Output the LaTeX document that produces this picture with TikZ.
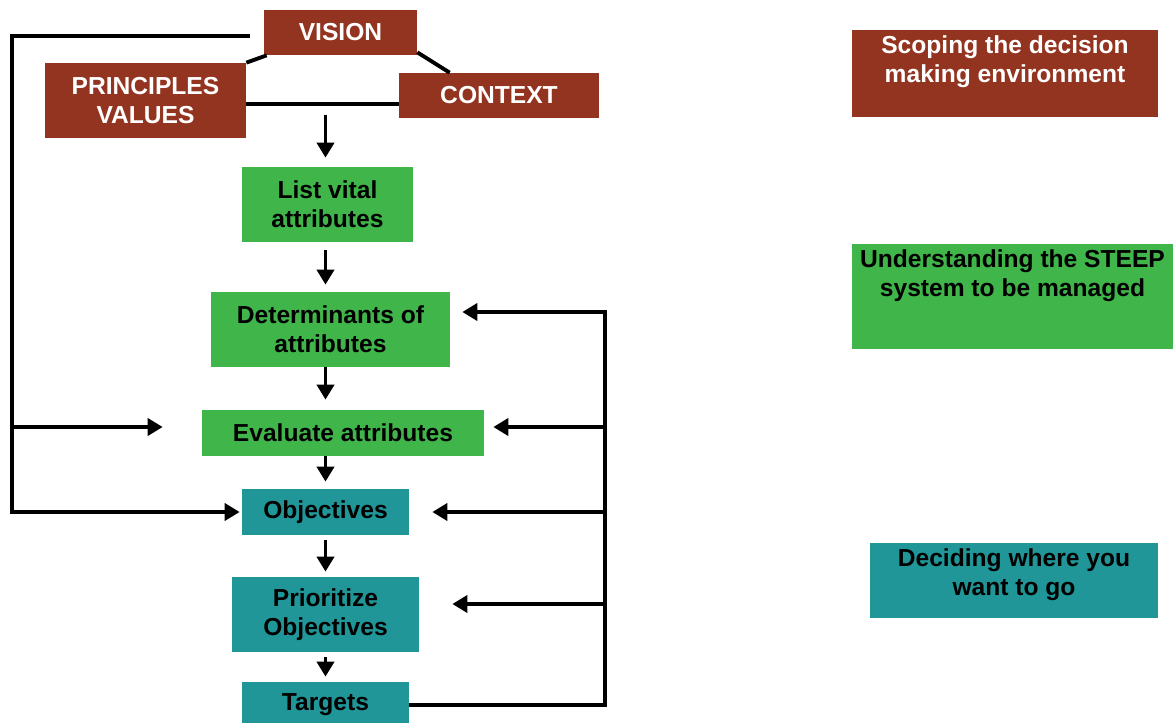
\documentclass[tikz,border=0pt]{standalone}
\usepackage{fontspec}
\setmainfont{Liberation Sans}
\usetikzlibrary{arrows.meta}
\definecolor{scopebrown}{RGB}{147,52,32}
\definecolor{steepgreen}{RGB}{64,181,74}
\definecolor{goalteal}{RGB}{33,150,152}
\begin{document}
\begin{tikzpicture}[x=0.02cm,y=-0.02cm,
        stagebox/.style={rectangle,inner sep=0pt,align=center,
            font=\bfseries\fontsize{14}{16.5}\selectfont},
        brownbox/.style={stagebox,fill=scopebrown,text=white},
        greenbox/.style={stagebox,fill=steepgreen,text=black},
        tealbox/.style={stagebox,fill=goalteal,text=black},
        legendtext/.style={stagebox,anchor=north,yshift=-0.12cm},
        link/.style={line width=2.2pt},
        flow/.style={link,-{Triangle[width=0.34cm,length=0.3cm]}}]
        \useasboundingbox (0,0) rectangle (1173,723);
        \node (vision) [brownbox,minimum width=3.06cm,minimum height=0.9cm] at (340.5,32.5) {VISION};
        \node (principles) [brownbox,minimum width=4.02cm,minimum height=1.5cm] at (145.5,100.5) {PRINCIPLES\\VALUES};
        \node (context) [brownbox,minimum width=4cm,minimum height=0.9cm] at (499,95.5) {CONTEXT};
        \node (list) [greenbox,minimum width=3.42cm,minimum height=1.5cm] at (327.5,204.5) {List vital\\attributes};
        \node (det) [greenbox,minimum width=4.78cm,minimum height=1.5cm] at (330.5,329.5) {Determinants of\\attributes};
        \node (eval) [greenbox,minimum width=5.64cm,minimum height=0.92cm] at (343,433) {Evaluate attributes};
        \node (obj) [tealbox,minimum width=3.34cm,minimum height=0.92cm] at (325.5,512) {Objectives};
        \node (prio) [tealbox,minimum width=3.74cm,minimum height=1.5cm] at (325.5,614.5) {Prioritize\\Objectives};
        \node (targets) [tealbox,minimum width=3.34cm,minimum height=0.92cm] at (325.5,705) {Targets};
        \node (scope) [brownbox,minimum width=6.12cm,minimum height=1.74cm] at (1005,73.5) {};
        \node (scopetext) [legendtext,text=white] at (scope.north) {Scoping the decision\\making environment};
        \node (steep) [greenbox,minimum width=6.42cm,minimum height=2.1cm] at (1012.5,296.5) {};
        \node (steeptext) [legendtext] at (steep.north) {Understanding the STEEP\\system to be managed};
        \node (decide) [tealbox,minimum width=5.76cm,minimum height=1.5cm] at (1014,580.5) {};
        \node (decidetext) [legendtext] at (decide.north) {Deciding where you\\want to go};
        \coordinate (left) at (12,427);
        \coordinate (right) at (605,312);
        \coordinate (r1) at (605,427);
        \coordinate (r2) at (605,512);
        \coordinate (r3) at (605,604);
        \draw [link] (principles.north east) -- ([xshift=0.06cm]vision.south west);
        \draw [link] ([yshift=0.06cm]vision.south east) -- ([xshift=1.02cm]context.north west);
        \draw [link] ([yshift=-0.07cm]principles.east) -- ([yshift=-0.07cm]principles.east -| context.west);
        \draw [flow] ([yshift=1.04cm]list.north -| obj) -- ([yshift=0.18cm]list.north -| obj);
        \draw [flow,shorten <=0.16cm,shorten >=0.14cm] (list.south -| obj) -- (det.north -| obj);
        \draw [flow,shorten >=0.2cm] (det.south -| obj) -- (eval.north -| obj);
        \draw [flow,shorten >=0.14cm] (eval.south -| obj) -- (obj.north);
        \draw [flow,shorten <=0.1cm,shorten >=0.1cm] (obj.south) -- (prio.north);
        \draw [flow,shorten <=0.1cm,shorten >=0.1cm] (prio.south) -- (targets.north);
        \draw [flow] ([xshift=-0.28cm,yshift=-0.07cm]vision.west) -| (left) |- ([xshift=-0.04cm]obj.west);
        \draw [flow,shorten >=0.78cm] (left) -- (left -| eval.west);
        \draw [flow,shorten >=0.24cm] (targets.east) -| (right) -- (right -| det.east);
        \draw [flow,shorten >=0.18cm] (r1) -- (r1 -| eval.east);
        \draw [flow,shorten >=0.46cm] (r2) -- (r2 -| obj.east);
        \draw [flow,shorten >=0.66cm] (r3) -- (r3 -| prio.east);
    \end{tikzpicture}
\end{document}
